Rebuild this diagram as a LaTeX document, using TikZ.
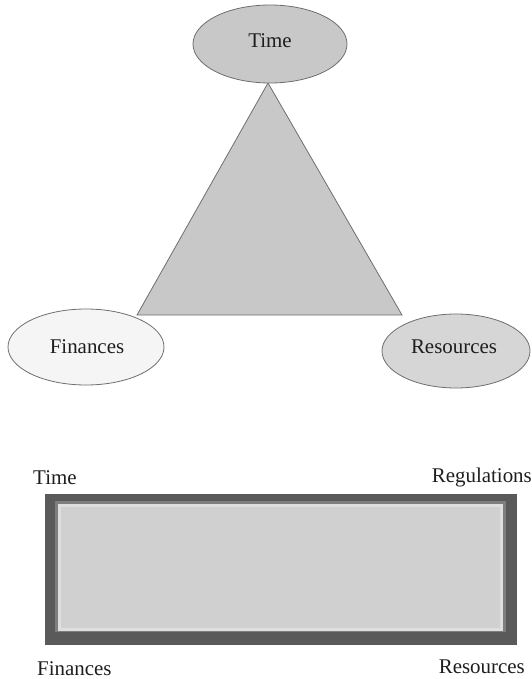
\documentclass[tikz,border=0pt]{standalone}
\usepackage{fontspec}
\setmainfont{Liberation Serif}
\usetikzlibrary{shapes.geometric}
\definecolor{ringdark}{HTML}{5A5A5A}
\definecolor{ringmid}{HTML}{7E7E7E}
\definecolor{ringlight}{HTML}{DEDEDE}
\definecolor{boxfill}{HTML}{D0D0D0}
\definecolor{midgray}{HTML}{C8C8C8}
\definecolor{paleg}{HTML}{F5F5F5}
\definecolor{resg}{HTML}{D6D6D6}
\definecolor{edgeg}{HTML}{6E6E6E}
\definecolor{txt}{HTML}{1E1E1E}
\begin{document}
\begin{tikzpicture}[x=1bp,y=-1bp,
  every node/.style={font=\fontsize{21}{24}\selectfont, text=txt},
  oval/.style={ellipse, draw=edgeg, line width=0.8bp, inner sep=0pt},
  lbl/.style={inner sep=0pt}]
\useasboundingbox (0,0) rectangle (532,679);
% triangle
\coordinate (apex) at (268,83);
\coordinate (bl) at (137,315);
\coordinate (br) at (402,315);
\draw[draw=edgeg, fill=midgray, line width=0.8bp] (apex) -- (bl) -- (br) -- cycle;
% ellipses
\node[oval, fill=midgray, minimum width=154bp, minimum height=78bp] (time) at (270,44) {};
\node[lbl, anchor=base] (timet) at (270,48) {Time};
\node[oval, fill=paleg, minimum width=156bp, minimum height=76bp] (fin) at (86,347) {};
\node[lbl, anchor=base] (fint) at (87,353) {Finances};
\node[oval, fill=resg, minimum width=148bp, minimum height=74bp] (res) at (456,351) {};
\node[lbl, anchor=base] (rest) at (454,353) {Resources};
% framed box
\fill[ringdark] (45,494) rectangle (517,645);
\fill[ringmid] (55,501) rectangle (506,632);
\fill[ringlight] (58,504) rectangle (503,631);
\fill[boxfill] (61,507) rectangle (500,628);
% labels
\node[lbl, anchor=base west] (l1) at (33,484) {Time};
\node[lbl, anchor=base east] (l2) at (532,482) {Regulations};
\node[lbl, anchor=base west] (l3) at (37,675) {Finances};
\node[lbl, anchor=base east] (l4) at (525,673) {Resources};
\end{tikzpicture}
\end{document}
